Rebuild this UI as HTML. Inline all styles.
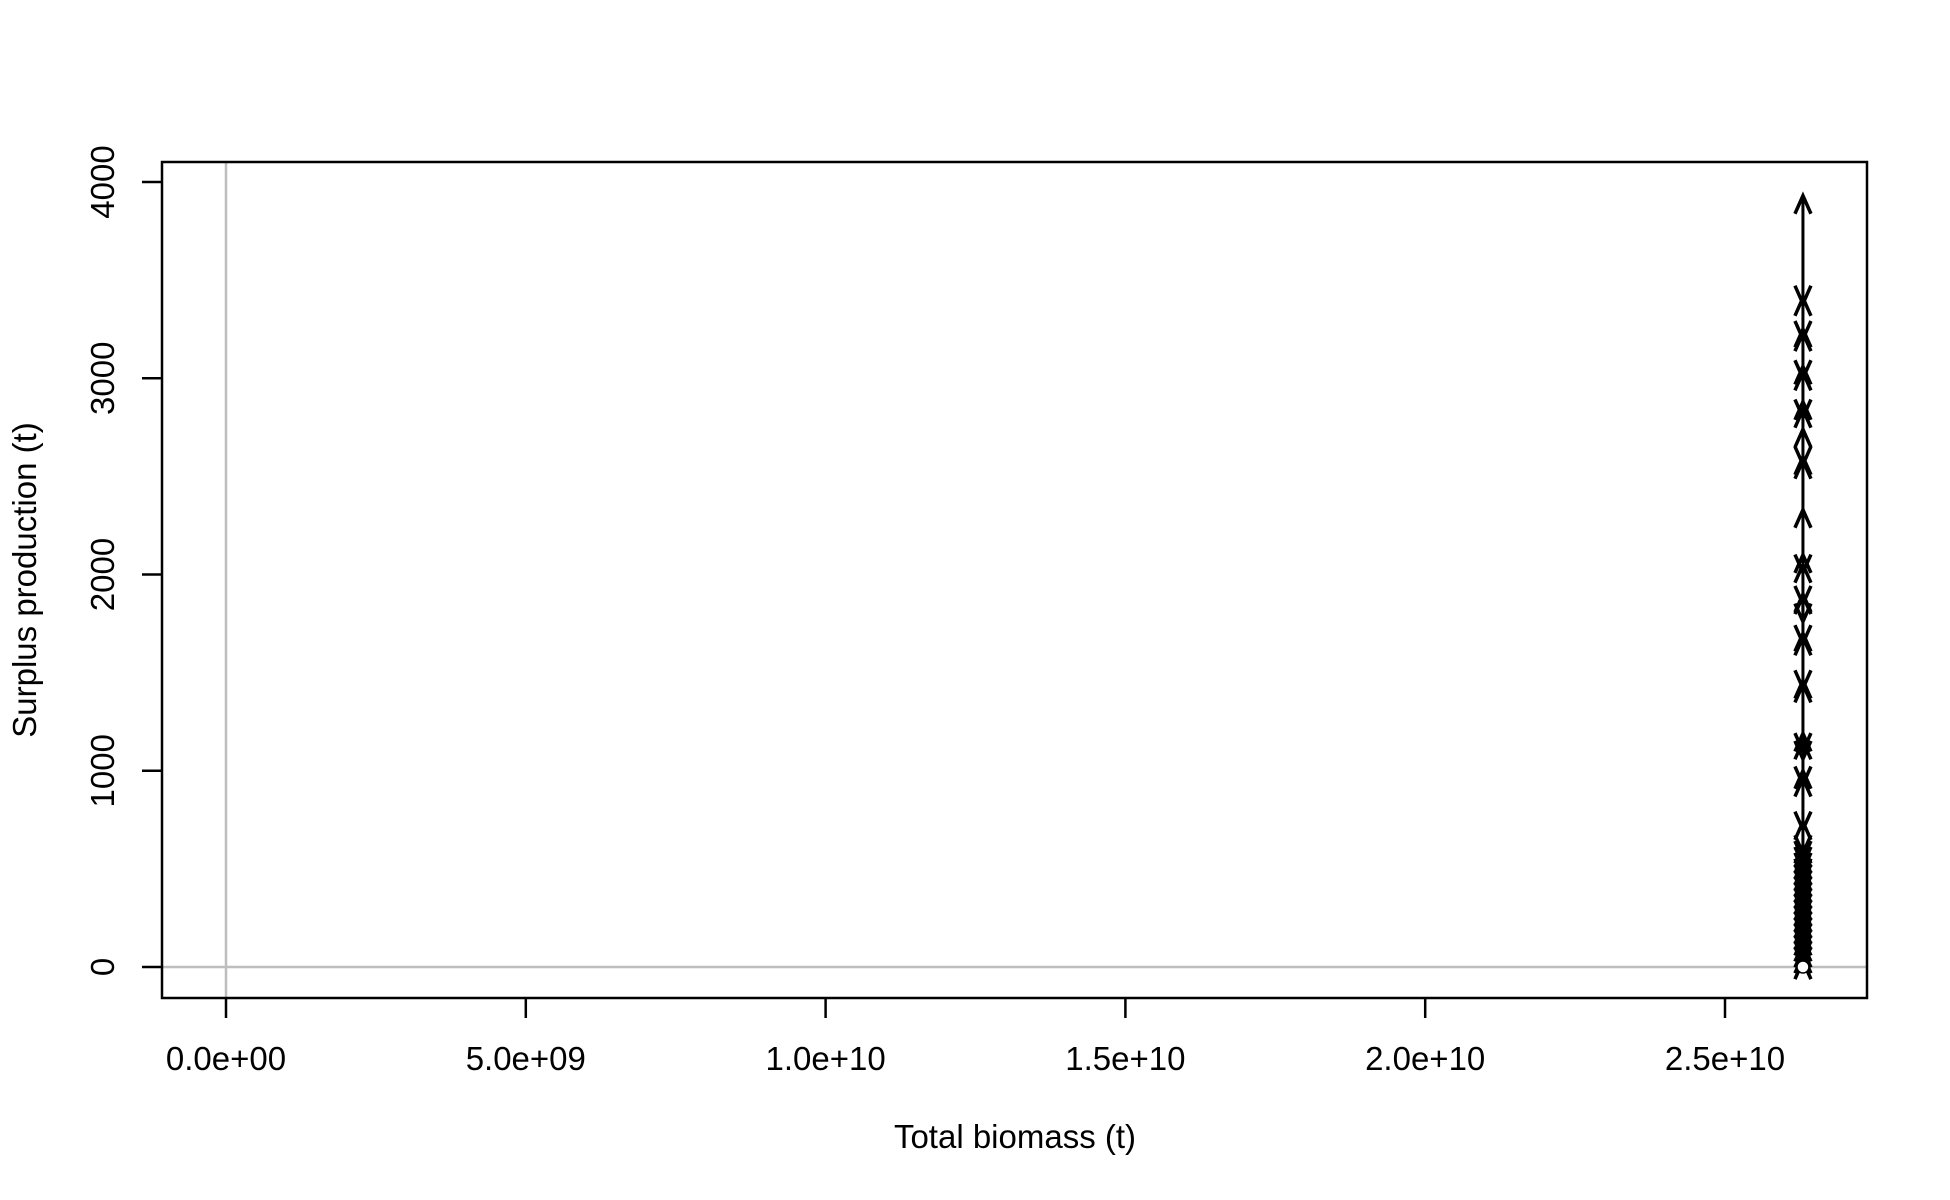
<!DOCTYPE html>
<html><head><meta charset="utf-8"><style>
html,body{margin:0;padding:0;background:#fff}
svg{display:block}
text{font-family:"Liberation Sans",Arial,sans-serif;fill:#000}
</style></head><body>
<svg id="chart" width="1950" height="1200" xmlns="http://www.w3.org/2000/svg">
<g id="grid"></g>
<g id="series"></g>
<rect x="162" y="162" width="1705" height="836" fill="none" stroke="#000" stroke-width="2.5"/>
<g id="xaxis"></g>
<g id="yaxis"></g>
<text x="1015" y="1148" font-size="33" text-anchor="middle">Total biomass (t)</text>
<text transform="translate(36,580) rotate(-90)" font-size="33" text-anchor="middle">Surplus production (t)</text>
</svg>
<script>
const xTicks = [0, 5e9, 1e10, 1.5e10, 2e10, 2.5e10];
const xTickLabels = ["0.0e+00","5.0e+09","1.0e+10","1.5e+10","2.0e+10","2.5e+10"];
const yTicks = [0, 1000, 2000, 3000, 4000];
const yTickLabels = ["0","1000","2000","3000","4000"];
const biomass = 2.63e10;
const production = [0, 30, 10, 60, 40, 90, 70, 120, 100, 150, 130, 180, 160, 210, 190, 240, 220, 270, 250, 300, 280, 330, 310, 360, 340, 390, 370, 420, 400, 450, 430, 480, 460, 510, 490, 540, 520, 570, 550, 600, 580, 620, 740, 700, 960, 930, 1000, 1190, 1100, 1060, 1150, 1460, 1420, 1440, 1680, 1650, 1700, 1900, 1760, 1890, 1850, 2050, 2010, 2100, 2330, 2580, 2600, 2560, 2740, 2840, 2800, 2880, 3030, 3000, 3060, 3250, 3200, 3230, 3410, 3380, 3930];

const NS = "http://www.w3.org/2000/svg";
const X = v => 226 + v / 2.5e10 * 1499;
const Y = v => 967 - v / 4000 * 785;
function mk(tag, attrs, parent) {
  const e = document.createElementNS(NS, tag);
  for (const k in attrs) e.setAttribute(k, attrs[k]);
  parent.appendChild(e);
  return e;
}
const grid = document.getElementById('grid');
const g1 = mk('line', {x1: X(0), x2: X(0), y1: 162, y2: 998, stroke: '#bebebe', 'stroke-width': 2.5}, grid);


const g2 = mk('line', {x1: 162, x2: 1867, y1: Y(0), y2: Y(0), stroke: '#bebebe', 'stroke-width': 2.5}, grid);



const xa = document.getElementById('xaxis');
xTicks.forEach((t, i) => {
  const l = mk('line', {x1: X(t), x2: X(t), y1: 998, y2: 1018, stroke: '#000', 'stroke-width': 2.5}, xa);
  
  
  const tx = mk('text', {x: X(t), y: 1070, 'font-size': 33, 'text-anchor': 'middle'}, xa);
  tx.textContent = xTickLabels[i];
  
  
});
const ya = document.getElementById('yaxis');
yTicks.forEach((t, i) => {
  const l = mk('line', {x1: 142, x2: 162, y1: Y(t), y2: Y(t), stroke: '#000', 'stroke-width': 2.5}, ya);
  
  
  const tx = mk('text', {'font-size': 33, 'text-anchor': 'middle', transform: `translate(114,${Y(t)}) rotate(-90)`}, ya);
  tx.textContent = yTickLabels[i];
  
  
});

const s = document.getElementById('series');
const px = X(biomass);
for (let i = 0; i < production.length - 1; i++) {
  const y0 = Y(production[i]), y1 = Y(production[i + 1]);
  const a = mk('line', {x1: px, x2: px, y1: y0, y2: y1, stroke: '#000', 'stroke-width': 3}, s);
  
  
  const dir = y1 < y0 ? 1 : -1;
  const h = mk('polyline', {points: `${px-8},${y1+dir*18} ${px},${y1} ${px+8},${y1+dir*18}`, fill: 'none', stroke: '#000', 'stroke-width': 3.5}, s);
  
  
}
const c = mk('circle', {cx: px, cy: Y(production[0]), r: 6, fill: '#fff', stroke: '#000', 'stroke-width': 1.5}, s);


</script>
</body></html>
